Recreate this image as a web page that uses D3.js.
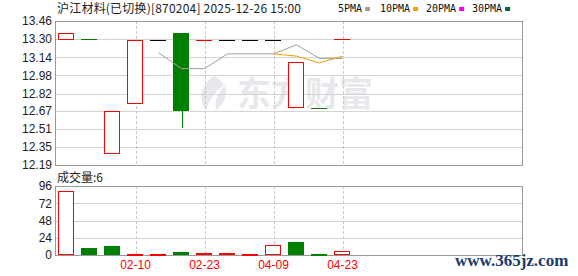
<!DOCTYPE html>
<html>
<head>
<meta charset="utf-8">
<script src="https://d3js.org/d3.v7.min.js"></script>
<style>
    body { margin: 0; background: #fff; }
    svg { display: block; }
    .axis text { font-family: "Liberation Sans", Arial, sans-serif; font-size: 12px; fill: #222; }
    .axis path, .axis line { display: none; }
</style>
</head>
<body>
<div id="chart"></div>
<script>
    // daily K line data
    const dates = ["01-22", "01-27", "02-03", "02-10", "02-12", "02-17", "02-23", "03-05", "03-24", "04-09", "04-14", "04-17", "04-23"];
    const opens = [13.30, 13.30, 12.30, 12.73, 13.29, 13.35, 13.29, 13.29, 13.29, 13.29, 12.70, 12.69, 13.30];
    const closes = [13.35, 13.30, 12.67, 13.29, 13.29, 12.67, 13.29, 13.29, 13.29, 13.29, 13.10, 12.69, 13.30];
    const highs = [13.35, 13.30, 12.67, 13.29, 13.29, 13.35, 13.29, 13.29, 13.29, 13.29, 13.10, 12.69, 13.30];
    const lows = [13.30, 13.30, 12.30, 12.73, 13.29, 12.52, 13.29, 13.29, 13.29, 13.29, 12.70, 12.69, 13.30];
    const volumes = [89, 10, 12, 1, 1, 4, 3, 3, 1, 14, 18, 2, 6];
    const ma5 = [null, null, null, null, 13.18, 13.04, 13.04, 13.17, 13.17, 13.17, 13.25, 13.13, 13.13];
    const ma10 = [null, null, null, null, null, null, null, null, null, 13.17, 13.15, 13.09, 13.15];

    const priceTicks = [12.19, 12.35, 12.51, 12.67, 12.82, 12.98, 13.14, 13.30, 13.46];
    const volTicks = [0, 24, 48, 72, 96];
    const dateTicks = ["02-10", "02-23", "04-09", "04-23"];
    const maNames = ["5PMA", "10PMA", "20PMA", "30PMA"];
    const maColors = ["#a0a0a0", "#f0a000", "#ff00ff", "#006633"];

    const W = 578, H = 276;
    const left = 55, right = 522;
    const main = { top: 21, bottom: 165 };
    const vol = { top: 186, bottom: 255 };
    const RED = "#ff0000", GREEN = "#008000";
    const legendX = [338, 380, 426, 472];

    const svg = d3.select("#chart").append("svg")
        .attr("width", W)
        .attr("height", H);

    const x = d3.scaleBand()
        .domain(dates)
        .range([left, left + dates.length * 23])
        .paddingInner(0.3)
        .paddingOuter(0.15);

    const y = d3.scaleLinear().domain([12.19, 13.46]).range([main.bottom, main.top]);
    const yv = d3.scaleLinear().domain([0, 96]).range([vol.bottom, vol.top]);

    // candle colour: up red, down green, flat black
    function colorOf(i) {
        if (closes[i] > opens[i]) return RED;
        if (closes[i] < opens[i]) return GREEN;
        const prev = i > 0 ? closes[i - 1] : opens[i];
        if (closes[i] > prev) return RED;
        if (closes[i] < prev) return GREEN;
        return "#000";
    }
    // volume colour follows the change against the previous close
    function volColor(i) {
        const prev = i > 0 ? closes[i - 1] : opens[i];
        return closes[i] < prev ? GREEN : RED;
    }

    // watermark
    svg.append("text")
        .attr("x", 237).attr("y", 106)
        .attr("font-family", "Noto Sans CJK SC")
        .attr("font-weight", "bold")
        .attr("font-size", 34)
        .attr("fill", "#e8e8ec")
        .text("东方财富");
    svg.append("path")
        .attr("d", "M214,76 C200,86 198,100 206,110 C210,98 216,90 226,84 C218,92 214,100 216,110 C228,100 232,86 214,76 Z")
        .attr("fill", "#e8e8ec");

    // grid for both panels
    function grid(scale, ticks, top, bottom) {
        svg.append("g")
            .selectAll("line")
            .data(ticks)
            .join("line")
            .attr("x1", left).attr("x2", right)
            .attr("y1", d => Math.round(scale(d)) + 0.5)
            .attr("y2", d => Math.round(scale(d)) + 0.5)
            .attr("stroke", "#d4d4d4");
        svg.append("g")
            .selectAll("line")
            .data(dateTicks)
            .join("line")
            .attr("x1", d => Math.round(x(d) + x.bandwidth() / 2) + 0.5)
            .attr("x2", d => Math.round(x(d) + x.bandwidth() / 2) + 0.5)
            .attr("y1", top).attr("y2", bottom)
            .attr("stroke", "#c8c8c8")
            .attr("stroke-dasharray", "3,2");
        svg.append("rect")
            .attr("x", left + 0.5).attr("y", top + 0.5)
            .attr("width", right - left).attr("height", bottom - top)
            .attr("fill", "none")
            .attr("stroke", "#999");
    }
    grid(y, priceTicks, main.top, main.bottom);
    grid(yv, volTicks, vol.top, vol.bottom);

    // axes
    svg.append("g")
        .attr("class", "axis")
        .attr("transform", `translate(${left - 3},0)`)
        .call(d3.axisLeft(y).tickValues(priceTicks).tickFormat(d3.format(".2f")).tickSize(0).tickPadding(0));
    svg.append("g")
        .attr("class", "axis")
        .attr("transform", `translate(${left - 3},0)`)
        .call(d3.axisLeft(yv).tickValues(volTicks).tickSize(0).tickPadding(0));
    svg.append("g")
        .attr("class", "axis")
        .attr("transform", `translate(0,${vol.bottom + 2})`)
        .call(d3.axisBottom(x).tickValues(dateTicks).tickSize(0).tickPadding(3))
        .selectAll("text")
        .style("fill", RED);

    // candles
    const idx = d3.range(dates.length);
    const bw = Math.round(x.bandwidth());
    const cx = i => Math.round(x(dates[i]) + x.bandwidth() / 2) + 0.5;
    const bx = i => Math.round(x(dates[i])) + 0.5;

    const candles = svg.append("g").attr("shape-rendering", "crispEdges");
    candles.selectAll(".wick")
        .data(idx.filter(i => highs[i] > Math.max(opens[i], closes[i]) || lows[i] < Math.min(opens[i], closes[i])))
        .join("line")
        .attr("x1", cx).attr("x2", cx)
        .attr("y1", i => y(highs[i]))
        .attr("y2", i => y(lows[i]))
        .attr("stroke", colorOf);

    candles.selectAll(".body")
        .data(idx.filter(i => opens[i] !== closes[i]))
        .join("rect")
        .attr("x", bx)
        .attr("y", i => Math.round(y(Math.max(opens[i], closes[i]))) + 0.5)
        .attr("width", bw - 1)
        .attr("height", i => Math.round(Math.abs(y(opens[i]) - y(closes[i]))))
        .attr("fill", i => colorOf(i) === RED ? "#fff" : colorOf(i))
        .attr("stroke", colorOf);

    candles.selectAll(".flat")
        .data(idx.filter(i => opens[i] === closes[i]))
        .join("line")
        .attr("x1", i => Math.round(x(dates[i])))
        .attr("x2", i => Math.round(x(dates[i])) + bw)
        .attr("y1", i => Math.round(y(closes[i])) + 0.5)
        .attr("y2", i => Math.round(y(closes[i])) + 0.5)
        .attr("stroke", colorOf);

    // moving averages
    const maLine = d3.line()
        .defined(d => d.v != null)
        .x(d => x(dates[d.i]) + x.bandwidth() / 2)
        .y(d => y(d.v));
    [ma5, ma10].forEach((arr, k) => {
        svg.append("path")
            .datum(arr.map((v, i) => ({ i, v })))
            .attr("d", maLine)
            .attr("fill", "none")
            .attr("stroke", maColors[k])
            .attr("stroke-width", 1);
    });

    // volume bars
    svg.append("g").attr("shape-rendering", "crispEdges")
        .selectAll("rect")
        .data(idx)
        .join("rect")
        .attr("x", bx)
        .attr("y", i => Math.round(yv(volumes[i])) + 0.5)
        .attr("width", bw - 1)
        .attr("height", i => Math.max(1, Math.round(yv(0) - yv(volumes[i])) - 1))
        .attr("fill", i => volColor(i) === GREEN ? GREEN : "#fff")
        .attr("stroke", volColor);

    // titles
    svg.append("text")
        .attr("x", 57).attr("y", 13)
        .attr("font-family", "Noto Sans CJK SC")
        .attr("font-size", 12)
        .attr("fill", "#222")
        .attr("textLength", 244)
        .text("沪江材料(已切换)[870204] 2025-12-26 15:00");

    svg.append("text")
        .attr("x", 57).attr("y", 182)
        .attr("font-family", "Noto Sans CJK SC")
        .attr("font-size", 12)
        .attr("fill", "#222")
        .text("成交量:" + volumes[volumes.length - 1]);

    // legend
    maNames.forEach((name, k) => {
        const t = svg.append("text")
            .attr("x", legendX[k]).attr("y", 12)
            .attr("font-family", "DejaVu Sans Mono")
            .attr("font-size", 10)
            .attr("fill", "#111")
            .text(name);
        const w = t.node().getComputedTextLength();
        svg.append("rect")
            .attr("x", legendX[k] + w + 3).attr("y", 7)
            .attr("width", 5).attr("height", 4)
            .attr("fill", maColors[k]);
    });

    // site watermark
    svg.append("text")
        .attr("x", 455).attr("y", 266)
        .attr("font-family", "Liberation Serif")
        .attr("font-weight", "bold")
        .attr("font-size", 17)
        .attr("fill", "#1a3c6e")
        .text("www.365jz.com");
</script>
</body>
</html>
